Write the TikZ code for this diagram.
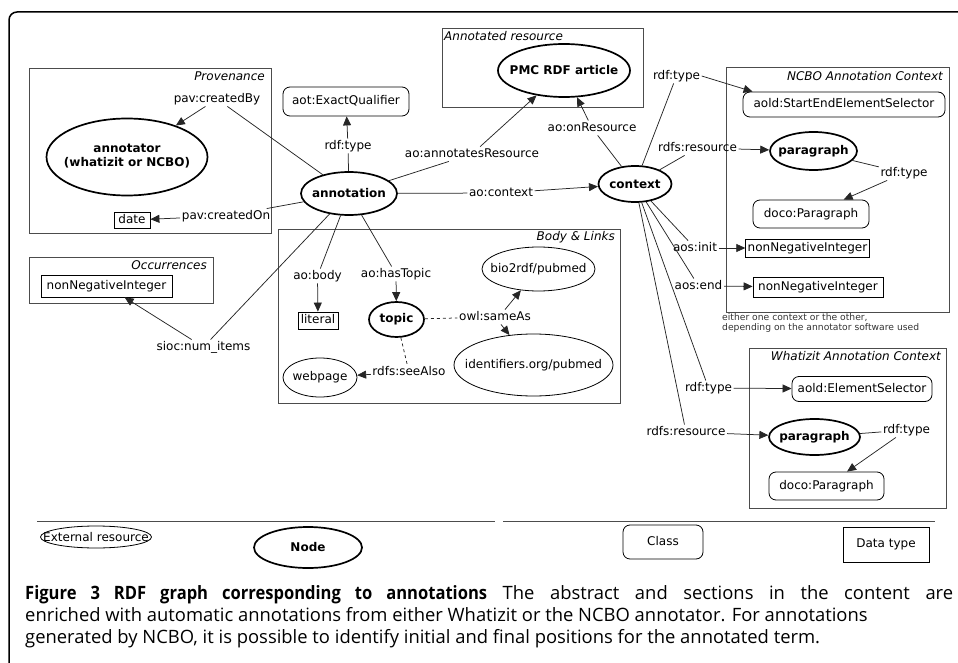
\documentclass[tikz,border=0pt]{standalone}
\usepackage{fontspec}
\setmainfont{DejaVu Sans}
\newfontfamily\capfont[BoldFeatures={FakeStretch=0.9}]{Open Sans}
\usetikzlibrary{shapes.geometric,arrows.meta}

\newcommand{\inell}[1]{\makebox[0pt]{#1}}

\tikzset{
  every node/.style={font=\fontsize{12}{14}\selectfont},
  lbl/.style={inner sep=1.5pt, text height=9pt, text depth=2.5pt},
  ttl/.style={font=\fontsize{12}{14}\selectfont\itshape, inner sep=0pt},
  res/.style={ellipse, draw, line width=1.7pt, inner sep=0pt, font=\fontsize{12}{14}\selectfont\bfseries},
  ext/.style={ellipse, draw, line width=0.8pt, inner sep=0pt},
  cls/.style={draw, line width=0.8pt, rounded corners=7pt, inner sep=2pt, text height=9pt, text depth=2.5pt},
  dtype/.style={draw, line width=0.8pt, inner sep=2pt, text height=9pt, text depth=2.5pt},
  grp/.style={draw=black!70, line width=0.9pt},
  ln/.style={draw=black!85, line width=0.75pt},
  arr/.style={ln, -{Triangle[length=9pt,width=8pt]}},
  note/.style={font=\fontsize{9.2}{10.5}\selectfont, text=black!80, align=left, inner sep=0pt},
}

\begin{document}
\begin{tikzpicture}[x=1pt,y=-1pt]
\useasboundingbox (0,0) rectangle (958,663);
\draw[line width=1.5pt, rounded corners=8pt] (9,663) -- (9,12) -- (958,12);

% boxes round groups of nodes
\draw[grp] (29,68) rectangle (271,233);
\node[ttl, anchor=east] (tprov) at (265,76) {Provenance};
\draw[grp] (442,28) rectangle (643,107);
\node[ttl, anchor=west] (tres) at (444,36) {Annotated resource};
\draw[grp] (726,67) rectangle (949,312);
\node[ttl, anchor=east] (tncbo) at (943,76) {NCBO Annotation Context};
\draw[grp] (278,229) rectangle (620,403);
\node[ttl, anchor=east] (tbody) at (615,237) {Body \& Links};
\draw[grp] (29,257) rectangle (213,303);
\node[ttl, anchor=east] (tocc) at (207,265) {Occurrences};
\draw[grp] (749,348) rectangle (946,508);
\node[ttl, anchor=east] (twhat) at (941,356) {Whatizit Annotation Context};

% nodes
\node[res, minimum width=96, minimum height=43] (annotation) at (349,193.5) {\inell{annotation}};
\node[res, minimum width=161, minimum height=77] (annotator) at (127,157) {\inell{\begin{tabular}{@{}c@{}}annotator\\(whatizit or NCBO)\end{tabular}}};
\node[dtype, minimum width=36, minimum height=16] (date) at (132,220) {date};
\node[cls, minimum width=126, minimum height=29] (exq) at (346,101.5) {aot:ExactQualifier};
\node[res, minimum width=132, minimum height=53] (pmc) at (564,70.5) {\inell{PMC RDF article}};
\node[res, minimum width=73, minimum height=36] (context) at (635,184) {\inell{context}};
\node[cls, minimum width=202, minimum height=25] (sees) at (844,104.5) {aold:StartEndElementSelector};
\node[res, minimum width=87, minimum height=38] (parn) at (813.5,151) {\inell{paragraph}};
\node[cls, minimum width=116, minimum height=28] (docon) at (811,214) {doco:Paragraph};
\node[dtype, minimum width=123, minimum height=18] (nnii) at (807.5,248) {nonNegativeInteger};
\node[dtype, minimum width=130, minimum height=20] (nnie) at (818,287) {nonNegativeInteger};
\node[cls, minimum width=140, minimum height=25] (els) at (862,389) {aold:ElementSelector};
\node[res, minimum width=91, minimum height=36] (parw) at (814.5,437) {\inell{paragraph}};
\node[cls, minimum width=115, minimum height=28] (docow) at (826.5,486) {doco:Paragraph};
\node[dtype, minimum width=131, minimum height=22] (nnio) at (106.5,286) {nonNegativeInteger};
\node[dtype, minimum width=40, minimum height=17] (literal) at (318,320.5) {literal};
\node[res, minimum width=55, minimum height=35] (topic) at (396.5,319.5) {\inell{topic}};
\node[ext, minimum width=113, minimum height=44] (bio) at (538.5,269) {\inell{bio2rdf/pubmed}};
\node[ext, minimum width=159, minimum height=62] (idorg) at (533.5,365) {\inell{identifiers.org/pubmed}};
\node[ext, minimum width=74, minimum height=39] (webpage) at (320,377.5) {\inell{webpage}};

% property labels
\node[lbl] (cby) at (217,99) {pav:createdBy};
\node[lbl] (con) at (226,216) {pav:createdOn};
\node[lbl] (rta) at (348,146) {rdf:type};
\node[lbl] (anres) at (472,154) {ao:annotatesResource};
\node[lbl] (onres) at (592,128) {ao:onResource};
\node[lbl] (actx) at (501,193) {ao:context};
\node[lbl] (rtc) at (676.5,76) {rdf:type};
\node[lbl] (rrn) at (697.5,148) {rdfs:resource};
\node[lbl] (rtpn) at (904,173) {rdf:type};
\node[lbl] (ainit) at (695,248) {aos:init};
\node[lbl] (aend) at (698.5,286) {aos:end};
\node[lbl] (rtw) at (708.5,388) {rdf:type};
\node[lbl] (rrw) at (686,432) {rdfs:resource};
\node[lbl] (rtpw) at (906.5,430) {rdf:type};
\node[lbl] (abody) at (317.5,276) {ao:body};
\node[lbl] (htopic) at (396,274) {ao:hasTopic};
\node[lbl] (same) at (495,317) {owl:sameAs};
\node[lbl] (see) at (409,372) {rdfs:seeAlso};
\node[lbl] (sioc) at (203.5,347) {sioc:num\_items};
\node[note, anchor=north west] (either) at (722,313) {either one context or the other,\\depending on the annotator software used};

% connectors
\draw[ln] (annotation) -- (cby);
\draw[arr] (cby) -- (annotator);
\draw[ln] (annotation) -- (con);
\draw[arr] (con) -- (date);
\draw[ln] (annotation) -- (rta);
\draw[arr] (rta) -- (exq);
\draw[ln] (annotation) -- (anres);
\draw[arr] (anres) -- (pmc);
\draw[ln] (annotation) -- (actx);
\draw[arr] (actx) -- (context);
\draw[ln] (context) -- (onres);
\draw[arr] (onres) -- (pmc);
\draw[ln] (context) -- (rtc);
\draw[arr] (rtc.east) -- ([xshift=10pt]sees.north west);
\draw[ln] (context) -- (rrn);
\draw[arr] (rrn) -- (parn);
\draw[ln] (parn) -- (rtpn);
\draw[arr] (rtpn) -- (docon);
\draw[ln] (context) -- (ainit);
\draw[arr] (ainit) -- (nnii);
\draw[ln] (context) -- (aend);
\draw[arr] (aend) -- (nnie);
\draw[ln] (context) -- (rtw);
\draw[arr] (rtw) -- (els);
\draw[ln] (context) -- (rrw);
\draw[arr] (rrw) -- (parw);
\draw[ln] (parw) -- (rtpw);
\draw[arr] (rtpw) -- (docow);
\draw[ln] (annotation) -- (abody);
\draw[arr] (abody) -- (literal);
\draw[ln] (annotation) -- (htopic);
\draw[arr] (htopic) -- (topic);
\draw[ln, dashed] (topic) -- (same);
\draw[arr] ([xshift=10pt]same.north) -- (bio);
\draw[arr] ([xshift=6pt]same.south) -- (idorg);
\draw[ln, dashed] (topic) -- (see);
\draw[arr] (see) -- (webpage);
\draw[ln] (annotation) -- (sioc);
\draw[arr] (sioc) -- (nnio);

% legend
\draw[grp] (37,521) -- (495,521);
\draw[grp] (503,521) -- (935,521);
\node[ext, minimum width=111, minimum height=22] (lext) at (96,537) {\inell{External resource}};
\node[res, minimum width=108, minimum height=41] (lnode) at (308,547.5) {\inell{Node}};
\node[cls, minimum width=80, minimum height=34] (lclass) at (663,542) {Class};
\node[dtype, minimum width=86, minimum height=35] (ldata) at (886,544.5) {Data type};

% caption
\node[anchor=north west, inner sep=0pt, text width=928pt, align=justify, font=\capfont\fontsize{18.4}{22}\selectfont] (caption) at (25,585) {\noindent\hyphenpenalty=10000 \textbf{Figure 3 RDF graph corresponding to annotations} The abstract and sections in the content are\linebreak enriched with automatic annotations from either Whatizit or the NCBO annotator. For annotations\\ generated by NCBO, it is possible to identify initial and final positions for the annotated term.};
\end{tikzpicture}
\end{document}
